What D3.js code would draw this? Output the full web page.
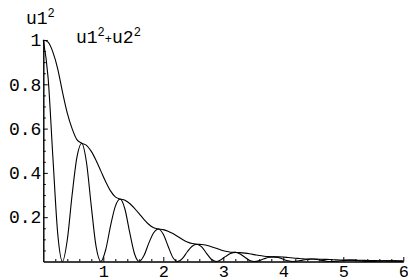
<!DOCTYPE html>
<html>
<head>
<meta charset="utf-8">
<script src="https://cdn.jsdelivr.net/npm/d3@7"></script>
<style>
  body { margin: 0; background: #fff; }
  text { font-family: "Liberation Mono", "DejaVu Sans Mono", monospace; fill: #000; }
</style>
</head>
<body>
<script>
var width = 408;
var height = 280;

// sample positions
var xs = [0, 0.08, 0.16, 0.24, 0.32, 0.40, 0.48, 0.56,
          0.64, 0.72, 0.80, 0.88, 0.96, 1.04, 1.12, 1.20,
          1.28, 1.36, 1.44, 1.52, 1.60, 1.68, 1.76, 1.84,
          1.92, 2.00, 2.08, 2.16, 2.24, 2.32, 2.40, 2.48,
          2.56, 2.64, 2.72, 2.80, 2.88, 2.96, 3.04, 3.12,
          3.20, 3.28, 3.36, 3.44, 3.52, 3.60, 3.68, 3.76,
          3.84, 3.92, 4.00, 4.08, 4.16, 4.24, 4.32, 4.40,
          4.48, 4.56, 4.64, 4.72, 4.80, 4.88, 4.96, 5.04,
          5.12, 5.20, 5.28, 5.36, 5.44, 5.52, 5.60, 5.68,
          5.76, 5.84, 5.92, 6.00];

// u1^2
var u1sq = [1, 0.83, 0.47, 0.127, 0, 0.098, 0.30, 0.47,
            0.534, 0.447, 0.249, 0.067, 0, 0.053, 0.160, 0.249,
            0.282, 0.237, 0.131, 0.035, 0, 0.028, 0.084, 0.130,
            0.147, 0.123, 0.069, 0.018, 0, 0.014, 0.044, 0.069,
            0.078, 0.066, 0.037, 0.010, 0, 0.008, 0.023, 0.036,
            0.041, 0.034, 0.019, 0.005, 0, 0.004, 0.012, 0.019,
            0.021, 0.018, 0.010, 0.003, 0, 0.002, 0.006, 0.009,
            0.011, 0.009, 0.005, 0.0014, 0, 0.001, 0.0034, 0.0053,
            0.006, 0.005, 0.0028, 0.0007, 0, 0.0006, 0.0018, 0.0026,
            0.003, 0.0026, 0.0014, 0.0004];

// u1^2 + u2^2
var sumsq = [1, 0.99, 0.945, 0.87, 0.765, 0.67, 0.60, 0.55,
             0.534, 0.524, 0.497, 0.456, 0.408, 0.360, 0.319, 0.292,
             0.282, 0.277, 0.262, 0.240, 0.215, 0.189, 0.167, 0.152,
             0.147, 0.144, 0.137, 0.126, 0.113, 0.099, 0.088, 0.081,
             0.078, 0.077, 0.073, 0.067, 0.060, 0.052, 0.046, 0.042,
             0.041, 0.040, 0.038, 0.035, 0.031, 0.027, 0.024, 0.022,
             0.021, 0.021, 0.020, 0.018, 0.016, 0.014, 0.012, 0.011,
             0.011, 0.011, 0.010, 0.0095, 0.0085, 0.0075, 0.0068, 0.0062,
             0.006, 0.006, 0.0055, 0.005, 0.0045, 0.004, 0.0035, 0.0031,
             0.003, 0.003, 0.0028, 0.0025];

var xTicks = [1, 2, 3, 4, 5, 6];
var xTickLabels = ["1", "2", "3", "4", "5", "6"];
var yTicks = [0.2, 0.4, 0.6, 0.8, 1];
var yTickLabels = ["0.2", "0.4", "0.6", "0.8", "1"];

var x = d3.scaleLinear().domain([0, 6]).range([43.3, 403.3]);
var y = d3.scaleLinear().domain([0, 1]).range([261.5, 40]);

var svg = d3.select("body")
            .append("svg")
            .attr("width", width)
            .attr("height", height);

// minor ticks
svg.append("g")
   .attr("transform", "translate(0," + y(0) + ")")
   .call(d3.axisBottom(x)
           .tickValues(d3.range(0.2, 6, 0.2).filter(v => Math.abs(v - Math.round(v)) > 0.01))
           .tickSize(-2.5).tickSizeOuter(0).tickFormat(""));

svg.append("g")
   .attr("transform", "translate(" + x(0) + ",0)")
   .call(d3.axisLeft(y)
           .tickValues(d3.range(0.05, 1, 0.05).filter(v => Math.abs(v * 5 - Math.round(v * 5)) > 0.01))
           .tickSize(-2.5).tickSizeOuter(0).tickFormat(""));

// major ticks + labels
svg.append("g")
   .attr("transform", "translate(0," + y(0) + ")")
   .call(d3.axisBottom(x)
           .tickValues(xTicks)
           .tickSize(-4.5).tickSizeOuter(0).tickPadding(3)
           .tickFormat((d, i) => xTickLabels[i]))
   .selectAll(".tick text")
   .attr("font-size", 17);

svg.append("g")
   .attr("transform", "translate(" + x(0) + ",0)")
   .call(d3.axisLeft(y)
           .tickValues(yTicks)
           .tickSize(-4.5).tickSizeOuter(0).tickPadding(2)
           .tickFormat((d, i) => yTickLabels[i]))
   .selectAll(".tick text")
   .attr("font-size", 18);

svg.selectAll(".tick text")
   .attr("font-family", "Liberation Mono");

svg.selectAll(".domain, .tick line")
   .attr("stroke", "#000")
   .attr("stroke-width", 1);

// curves
var line = d3.line()
             .x((d, i) => x(xs[i]))
             .y(d => y(d))
             .curve(d3.curveMonotoneX);

[u1sq, sumsq].forEach(function (s) {
  svg.append("path")
     .datum(s)
     .attr("fill", "none")
     .attr("stroke", "#000")
     .attr("stroke-width", 1.1)
     .attr("d", line);
});

// labels
function label(px, py, parts) {
  var t = svg.append("text")
             .attr("x", px)
             .attr("y", py)
             .attr("font-size", 18);
  parts.forEach(function (p) {
    t.append("tspan")
     .attr("font-size", p[1])
     .attr("dy", p[2])
     .text(p[0]);
  });
}

label(26, 24, [["u1", 18, 0], ["2", 12, -7]]);
label(76, 43, [["u1", 18, 0], ["2", 12, -7], ["+", 12, 7], ["u2", 18, 0], ["2", 12, -7]]);
</script>
</body>
</html>
